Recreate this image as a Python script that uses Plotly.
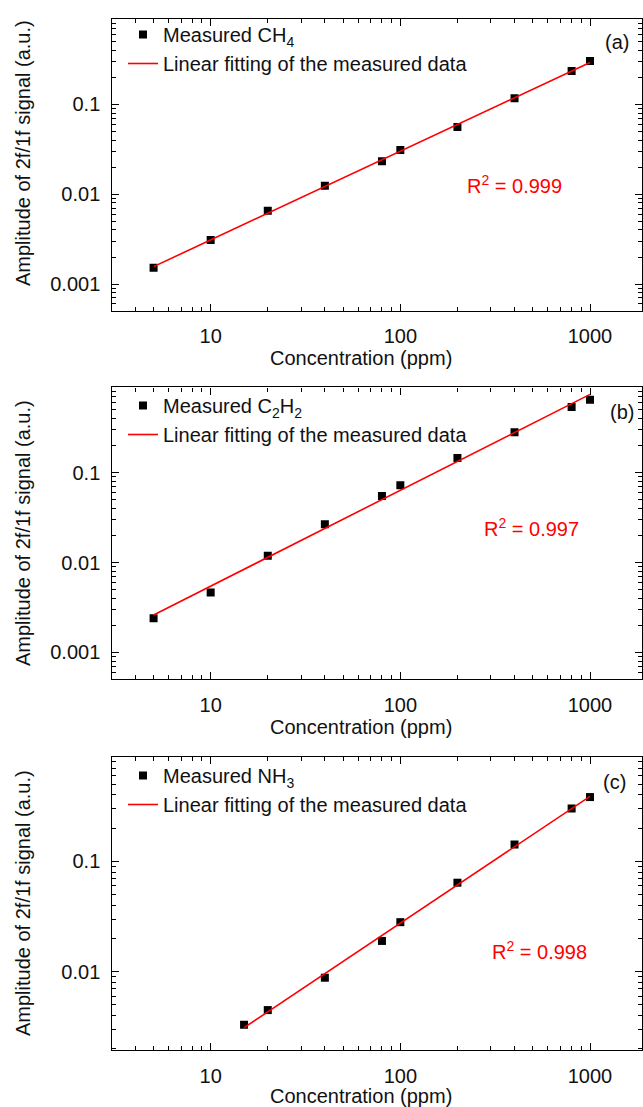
import numpy as np
import plotly.graph_objects as go

# ---------------- data ----------------
conc_ch4 = [5, 10, 20, 40, 80, 100, 200, 400, 800, 1000]
sig_ch4 = [0.00152, 0.00309, 0.00655, 0.0124, 0.0232, 0.0310, 0.0560, 0.117, 0.235, 0.303]

conc_c2h2 = [5, 10, 20, 40, 80, 100, 200, 400, 800, 1000]
sig_c2h2 = [0.00240, 0.00464, 0.0119, 0.0267, 0.0550, 0.0723, 0.146, 0.281, 0.537, 0.647]

conc_nh3 = [15, 20, 40, 80, 100, 200, 400, 800, 1000]
sig_nh3 = [0.00330, 0.00449, 0.00882, 0.0190, 0.0281, 0.0640, 0.142, 0.301, 0.382]

gas_names = ["Measured CH<sub>4</sub>", "Measured C<sub>2</sub>H<sub>2</sub>", "Measured NH<sub>3</sub>"]
r2_labels = ["R<sup>2</sup> = 0.999", "R<sup>2</sup> = 0.997", "R<sup>2</sup> = 0.998"]
panel_labels = ["(a)", "(b)", "(c)"]
fit_name = "Linear fitting of the measured data"
x_title = "Concentration (ppm)"
y_title = "Amplitude of 2f/1f signal (a.u.)"

x_ticks = [10, 100, 1000]
x_ticktext = ["10", "100", "1000"]
y_ticks_ab = [0.001, 0.01, 0.1]
y_ticktext_ab = ["0.001", "0.01", "0.1"]
y_ticks_c = [0.01, 0.1]
y_ticktext_c = ["0.01", "0.1"]

# ---------------- layout helpers ----------------
W, H = 643, 1107
FONT = "Liberation Sans, Arial, sans-serif"
TXT = "#111111"
x_dom = [111.5 / W, 642.0 / W]
panel_px = [(19, 311), (387.3, 679.3), (757, 1050.3)]
y_doms = [[1 - b / H, 1 - t / H] for t, b in panel_px]
y_ranges = [[-3.3, -0.05], [-3.3, -0.05], [-2.712, -0.055]]
x_range = [np.log10(3.0), np.log10(1880)]

def minor_vals(lo_exp, hi_exp):
    return [m * 10.0 ** e for e in range(lo_exp, hi_exp + 1) for m in range(2, 10)]

datasets = [(conc_ch4, sig_ch4), (conc_c2h2, sig_c2h2), (conc_nh3, sig_nh3)]

fig = go.Figure()
legend_names = ["legend", "legend2", "legend3"]
for i, (cx, sy) in enumerate(datasets):
    xa = "x" if i == 0 else f"x{i+1}"
    ya = "y" if i == 0 else f"y{i+1}"
    # log-log linear regression of the measured values
    k, b = np.polyfit(np.log10(cx), np.log10(sy), 1)
    fx = np.array([min(cx), max(cx)], dtype=float)
    fy = 10 ** (k * np.log10(fx) + b)
    fig.add_trace(go.Scatter(
        x=cx, y=sy, mode="markers", name=gas_names[i],
        marker=dict(symbol="square", size=8, color="black"),
        xaxis=xa, yaxis=ya, legend=legend_names[i], legendgroup=f"m{i}"))
    fig.add_trace(go.Scatter(
        x=fx, y=fy, mode="lines", name=fit_name,
        line=dict(color="#ff0000", width=1.6),
        xaxis=xa, yaxis=ya, legend=legend_names[i], legendgroup=f"f{i}"))

axis_common = dict(
    type="log", showline=True, linecolor="black", linewidth=1.4,
    mirror="ticks", ticks="inside", ticklen=7, tickwidth=1.2, tickcolor="black",
    showgrid=False, zeroline=False, automargin=False,
    tickfont=dict(family=FONT, size=20, color=TXT),
)

layout = dict(
    width=W, height=H, margin=dict(l=0, r=0, t=0, b=0, autoexpand=False),
    paper_bgcolor="white", plot_bgcolor="white",
    font=dict(family=FONT, size=20, color=TXT),
    showlegend=True,
)

for i in range(3):
    sfx = "" if i == 0 else str(i + 1)
    layout["xaxis" + sfx] = dict(
        axis_common, domain=x_dom, range=x_range, anchor="y" + sfx,
        tickvals=x_ticks, ticktext=x_ticktext, ticklabelstandoff=7,
        minor=dict(ticks="inside", ticklen=4, tickwidth=1, tickcolor="black",
                   tickvals=minor_vals(0, 2), showgrid=False),
    )
    if i < 2:
        tv, tt, mv = y_ticks_ab, y_ticktext_ab, minor_vals(-4, -1)
    else:
        tv, tt, mv = y_ticks_c, y_ticktext_c, minor_vals(-3, -1)
    layout["yaxis" + sfx] = dict(
        axis_common, domain=y_doms[i], range=y_ranges[i], anchor="x" + sfx,
        tickvals=tv, ticktext=tt, ticklabelstandoff=6,
        minor=dict(ticks="inside", ticklen=4, tickwidth=1, tickcolor="black",
                   tickvals=mv, showgrid=False),
    )

legend_tops = [15, 386, 756]
for i, name in enumerate(legend_names):
    layout[name] = dict(
        x=(165 - 42) / W, y=1 - legend_tops[i] / H, xanchor="left", yanchor="top",
        bgcolor="rgba(0,0,0,0)", borderwidth=0, tracegroupgap=0,
        font=dict(family=FONT, size=20, color=TXT),
    )

fig.update_layout(**layout)

label_pos = [(617, 42), (622, 412), (614, 782)]
r2_pos = [(514, 185), (531, 527), (539, 950)]
xtitle_pos = [(361, 358), (361, 727), (361, 1096)]
ytitle_pos = [(23, 153), (23, 533), (23, 903)]
ann_common = dict(xref="paper", yref="paper", showarrow=False,
                  xanchor="center", yanchor="middle")
for i in range(3):
    fig.add_annotation(text=panel_labels[i],
                       x=label_pos[i][0] / W, y=1 - label_pos[i][1] / H,
                       font=dict(family=FONT, size=20, color=TXT), **ann_common)
    fig.add_annotation(text=r2_labels[i],
                       x=r2_pos[i][0] / W, y=1 - r2_pos[i][1] / H,
                       font=dict(family=FONT, size=20, color="#ff0000"), **ann_common)
    fig.add_annotation(text=x_title,
                       x=xtitle_pos[i][0] / W, y=1 - xtitle_pos[i][1] / H,
                       font=dict(family=FONT, size=20, color=TXT), **ann_common)
    fig.add_annotation(text=y_title, textangle=-90,
                       x=ytitle_pos[i][0] / W, y=1 - ytitle_pos[i][1] / H,
                       font=dict(family=FONT, size=20, color=TXT), **ann_common)

fig.write_html(
    "out.html",
    config={"displayModeBar": False},
    post_script="document.body.style.margin='0';document.body.style.overflow='hidden';",
)
